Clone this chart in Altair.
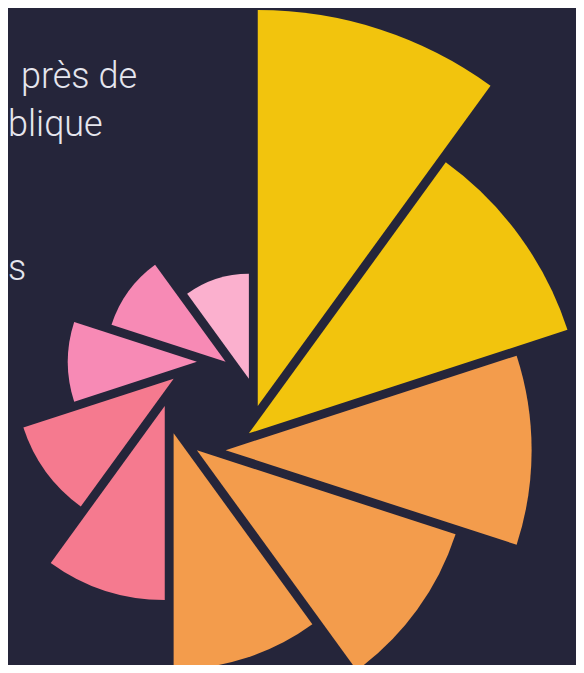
import math
import altair as alt
import pandas as pd

# ---- data ----
categories = ["A", "B", "C", "D", "E", "F", "G", "H", "I", "J"]
values = [39.6, 33.5, 30.6, 27.2, 23.6, 19.4, 15.8, 12.9, 12.0, 10.5]
colors = ["#F2C40D", "#F2C40D", "#F39C4C", "#F39C4C", "#F39C4C",
          "#F57A8F", "#F57A8F", "#F78AB5", "#F78AB5", "#FBB0CE"]
text_lines = ["près de", "blique", "s"]

BG = "#25253A"
W, H = 568, 657
CX, CY, OFF = 203.25, 398.0, 46.5   # pinwheel centre and apex offset (px)

df = pd.DataFrame({"cat": categories, "value": values})
df["idx"] = range(len(df))

arcs = (
    alt.Chart(df)
    .transform_calculate(
        start="datum.idx",
        end="datum.idx + 1",
        ang="(datum.idx * 36 + 18 + 72) * PI / 180",
    )
    .transform_calculate(ox="sin(datum.ang)", oy="cos(datum.ang)")
    .mark_arc(stroke=None)
    .encode(
        theta=alt.Theta("start:Q", scale=alt.Scale(domain=[0, 10], range=[0, 2 * math.pi])),
        theta2="end:Q",
        radius=alt.Radius("value:Q", scale=alt.Scale(type="linear", domain=[0, 40], range=[0, 400], zero=True)),
        x=alt.X("ox:Q", scale=alt.Scale(domain=[-1, 1], range=[CX - OFF, CX + OFF]), axis=None),
        y=alt.Y("oy:Q", scale=alt.Scale(domain=[-1, 1], range=[CY + OFF, CY - OFF]), axis=None),
        color=alt.Color("cat:N", scale=alt.Scale(domain=categories, range=colors), legend=None),
    )
)

text_specs = [("right", 129, 80), ("left", 0, 128), ("left", 0, 272)]
texts = []
for t, (al, tx, ty) in zip(text_lines, text_specs):
    texts.append(
        alt.Chart(pd.DataFrame({"t": [t]}))
        .mark_text(align=al, baseline="alphabetic", font="Roboto", fontWeight=300,
                   fontSize=36, color="#E6E6EE")
        .encode(text="t:N", x=alt.value(tx), y=alt.value(ty))
    )

chart = (
    alt.layer(arcs, *texts)
    .properties(width=W, height=H, background=BG, padding=0,
                autosize=alt.AutoSizeParams(type="none"))
    .configure_view(stroke=None)
)

chart.save("out.html", embed_options={"renderer": "svg", "actions": False})
